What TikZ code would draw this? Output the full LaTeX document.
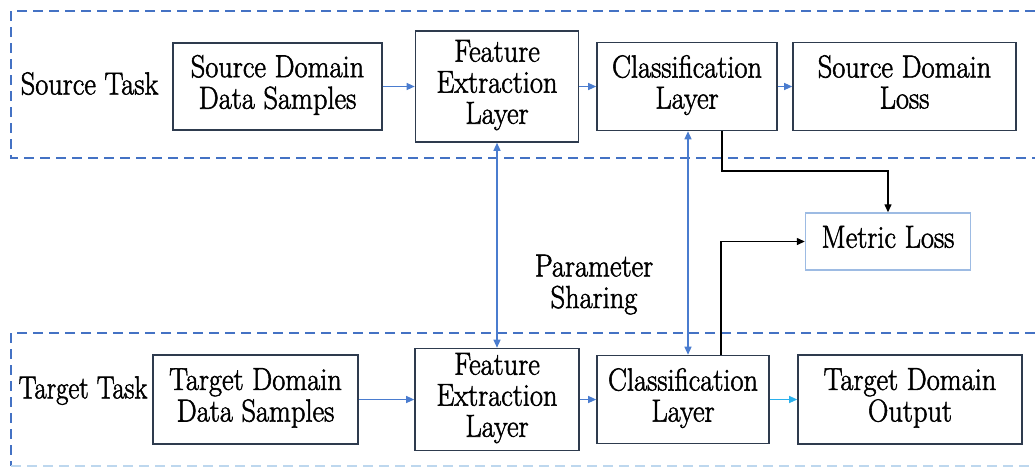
\documentclass[tikz,border=0pt]{standalone}
\usetikzlibrary{arrows.meta}
\definecolor{dashblue}{HTML}{4472C4}
\definecolor{arrblue}{HTML}{4A7CCF}
\definecolor{boxdark}{HTML}{2E3B4E}
\definecolor{lightbox}{HTML}{9DBBE3}
\definecolor{cyanarr}{HTML}{2BB0EC}
\definecolor{lightdash}{HTML}{BDD7EE}
\newcommand{\vtxt}[1]{\special{pdf:literal direct 2 Tr 0.5 w}\scalebox{1}[1.12]{\begin{tabular}{@{}c@{}}#1\end{tabular}}\special{pdf:literal direct 0 Tr}}
\begin{document}
\begin{tikzpicture}[x=1pt,y=-1pt,
  txt/.style={inner sep=0pt, font=\rmfamily\fontsize{28.4}{27.7}\selectfont, text=black},
  box/.style={txt, draw=boxdark, line width=1.6pt},
  mbox/.style={txt, draw=lightbox, line width=1.4pt},
  dashbox/.style={draw=dashblue, line width=1.3pt, dash pattern=on 10pt off 6pt},
  barr/.style={draw=arrblue, line width=1.1pt, -{Triangle[length=8pt,width=7pt]}},
  dbarr/.style={draw=arrblue, line width=1.3pt, {Triangle[length=8pt,width=7pt]}-{Triangle[length=8pt,width=7pt]}},
  carr/.style={draw=cyanarr, line width=1.1pt, -{Triangle[length=8pt,width=7pt]}},
  karr/.style={draw=black, line width=1.3pt, -{Triangle[length=8pt,width=7pt]}}]
\useasboundingbox (0,0) rectangle (1035,467);

% task regions
\draw[dashbox] (1035,11) -- (11,11) -- (11,158) -- (1035,158);
\draw[dashbox] (1035,333) -- (11,333) -- (11,466);
\draw[dashbox, draw=lightdash] (11,466) -- (1035,466);

% labels
\node[txt] (srctask) at (89.5,88) {\vtxt{Source Task}};
\node[txt] (tgttask) at (83,392) {\vtxt{\scalebox{0.94}[1]{Target Task}}};
\node[txt] (ps) at (594,286) {\vtxt{Parameter\\Sharing}};

% source row
\node[box, minimum width=209pt, minimum height=87pt] (sds) at (277.5,86.5) {\vtxt{Source Domain\\Data Samples}};
\node[box, minimum width=163pt, minimum height=111pt] (sfe) at (497,86.5) {\vtxt{Feature\\Extraction\\Layer}};
\node[box, minimum width=180pt, minimum height=88pt] (scl) at (687,86.5) {\vtxt{Classification\\Layer}};
\node[box, minimum width=223pt, minimum height=88pt] (sdl) at (904.5,86.5) {\vtxt{Source Domain\\Loss}};

% target row
\node[box, minimum width=205pt, minimum height=89pt] (tds) at (255.5,399.5) {\vtxt{Target Domain\\Data Samples}};
\node[box, minimum width=164pt, minimum height=102pt] (tfe) at (497,399.5) {\vtxt{Feature\\Extraction\\Layer}};
\node[box, minimum width=172pt, minimum height=88pt] (tcl) at (683,399.5) {\vtxt{Classification\\Layer}};
\node[box, minimum width=224pt, minimum height=89pt] (tdo) at (910,399.5) {\vtxt{Target Domain\\Output}};

% metric loss
\node[mbox, minimum width=165pt, minimum height=57pt] (ml) at (888,241.5) {\vtxt{Metric Loss}};

% source arrows
\draw[barr] (sds.east) -- (sds.east -| sfe.west);
\draw[barr] (sfe.east |- scl.west) -- (scl.west);
\draw[barr] (scl.east) -- (sdl.west);

% target arrows
\draw[barr] (tds.east) -- (tds.east -| tfe.west);
\draw[barr] (tfe.east |- tcl.west) -- (tcl.west);
\draw[carr] (tcl.east) -- (tdo.west);

% parameter sharing
\draw[dbarr] (sfe.south) -- (tfe.north);
\draw[dbarr] (scl.south -| 688,0) -- (tcl.north -| 688,0);

% metric loss connections
\draw[karr] (scl.south -| 722,0) -- (722,171) -| (ml.north);
\draw[karr] (tcl.north -| 721,0) |- (ml.west);
\end{tikzpicture}
\end{document}
